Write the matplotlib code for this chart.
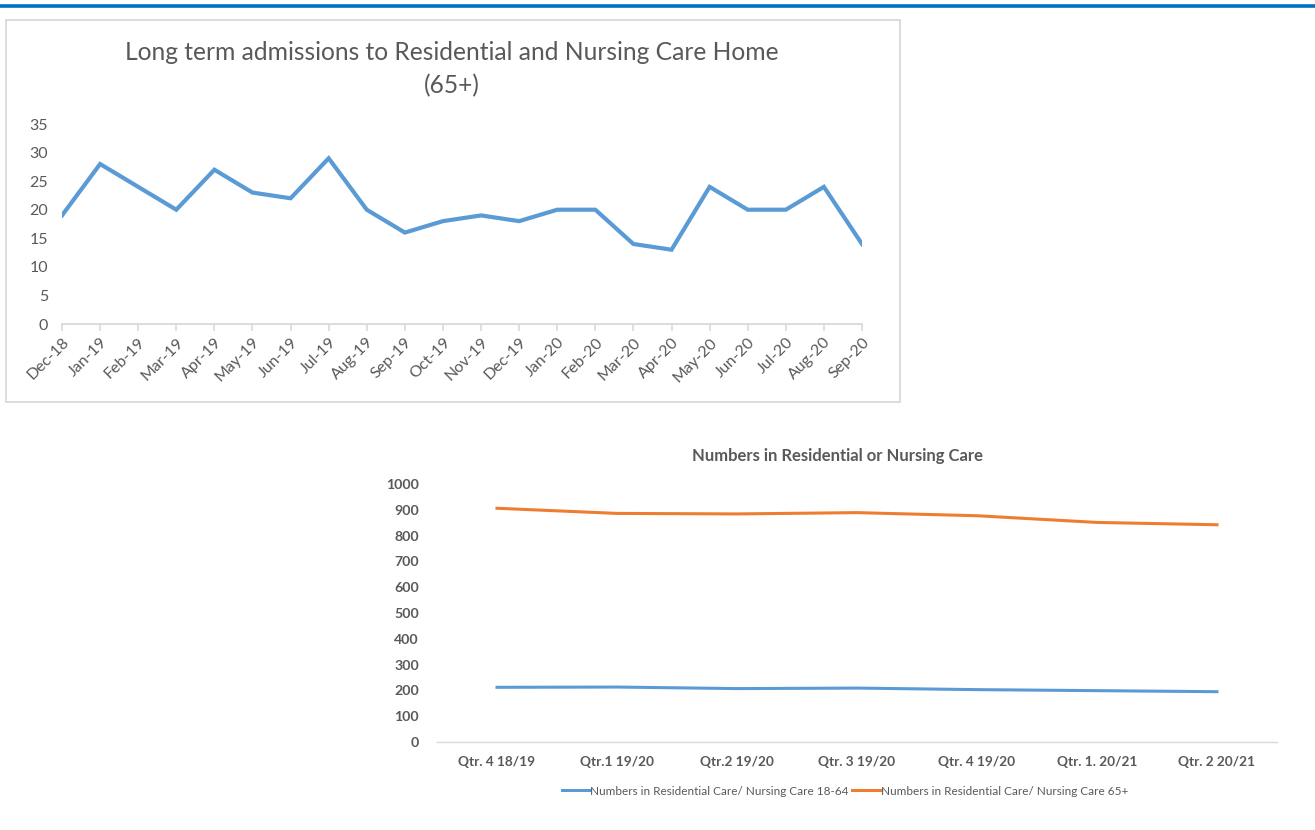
import matplotlib
matplotlib.use('Agg')
import matplotlib.pyplot as plt
from matplotlib.patches import Rectangle
from matplotlib.lines import Line2D

plt.rcParams['font.family'] = ['Lato', 'DejaVu Sans']

# monthly long term admissions (65+)
months = ['Dec-18', 'Jan-19', 'Feb-19', 'Mar-19', 'Apr-19', 'May-19', 'Jun-19', 'Jul-19',
          'Aug-19', 'Sep-19', 'Oct-19', 'Nov-19', 'Dec-19', 'Jan-20', 'Feb-20', 'Mar-20',
          'Apr-20', 'May-20', 'Jun-20', 'Jul-20', 'Aug-20', 'Sep-20']
admissions = [19, 28, 24, 20, 27, 23, 22, 29, 20, 16, 18, 19, 18, 20, 20, 14,
              13, 24, 20, 20, 24, 14]

# quarterly numbers in care
quarters = ['Qtr. 4 18/19', 'Qtr.1 19/20', 'Qtr.2 19/20', 'Qtr. 3 19/20',
            'Qtr. 4 19/20', 'Qtr. 1. 20/21', 'Qtr. 2 20/21']
care_18_64 = [212, 213, 207, 209, 203, 199, 195]
care_65_plus = [906, 886, 884, 889, 877, 851, 842]

W, H = 1315, 830
GREY = '#595959'
AXIS = '#D9D9D9'
BLUE = '#5B9BD5'
ORANGE = '#ED7D31'

def fx(px):
    return px / W

def fy(py):
    return 1 - py / H

fig = plt.figure(figsize=(W / 100, H / 100), dpi=100)

# page rule at top
fig.add_artist(Line2D([0, 1], [fy(6.5), fy(6.5)], color='#0070C0', lw=2.6))
# box around top chart
fig.add_artist(Rectangle((fx(6), fy(402)), fx(894), 382 / H, fill=False,
                         edgecolor=AXIS, lw=1.3))

# ---- top chart ----
ax1 = fig.add_axes([fx(62), fy(324), fx(800), 200 / H])
x1 = list(range(len(months)))
ax1.plot(x1, admissions, color=BLUE, lw=3.0, solid_joinstyle='miter')
ax1.set_xlim(0, len(months) - 1)
ax1.set_ylim(0, 35)
ax1.set_yticks(range(0, 36, 5))
ax1.set_xticks(x1)
ax1.set_xticklabels(months, rotation=45, ha='right', rotation_mode='anchor')
for s in ['top', 'right', 'left']:
    ax1.spines[s].set_visible(False)
ax1.spines['bottom'].set_color(AXIS)
ax1.spines['bottom'].set_linewidth(1.3)
ax1.tick_params(axis='y', length=0, pad=10, labelsize=11.5, labelcolor=GREY)
ax1.tick_params(axis='x', length=5, width=1.2, color=AXIS, pad=3,
                labelsize=11.5, labelcolor=GREY)
fig.text(fx(452), fy(53), 'Long term admissions to Residential and Nursing Care Home',
         ha='center', va='center', fontsize=17.7, color=GREY)
fig.text(fx(452), fy(86), '(65+)', ha='center', va='center', fontsize=17.7, color=GREY)

# ---- bottom chart ----
ax2 = fig.add_axes([fx(437), fy(742), fx(840), 258 / H])
x2 = list(range(len(quarters)))
ax2.plot(x2, care_18_64, color=BLUE, lw=2.2,
         label='Numbers in Residential Care/ Nursing Care 18-64')
ax2.plot(x2, care_65_plus, color=ORANGE, lw=2.2,
         label='Numbers in Residential Care/ Nursing Care 65+')
ax2.set_xlim(-0.5, len(quarters) - 0.5)
ax2.set_ylim(0, 1000)
ax2.set_yticks(range(0, 1001, 100))
ax2.set_xticks(x2)
ax2.set_xticklabels(quarters)
for s in ['top', 'right', 'left']:
    ax2.spines[s].set_visible(False)
ax2.spines['bottom'].set_color(AXIS)
ax2.spines['bottom'].set_linewidth(1.0)
ax2.tick_params(axis='y', length=0, pad=13, labelsize=10.2, labelcolor=GREY)
ax2.tick_params(axis='x', length=0, pad=10, labelsize=9.8, labelcolor=GREY)
for lbl in ax2.get_xticklabels() + ax2.get_yticklabels():
    lbl.set_fontweight('bold')
fig.text(fx(837), fy(456), 'Numbers in Residential or Nursing Care', ha='center',
         va='center', fontsize=12, fontweight='bold', color=GREY)
leg = ax2.legend(loc='center', ncol=2, frameon=False, fontsize=8.5, handlelength=2.4,
                 handletextpad=0.0, columnspacing=0.3, borderaxespad=0)
leg.set_bbox_to_anchor((fx(845), fy(791)), transform=fig.transFigure)
for t in leg.get_texts():
    t.set_color(GREY)

fig.savefig('out.png', dpi=100, facecolor='white')
